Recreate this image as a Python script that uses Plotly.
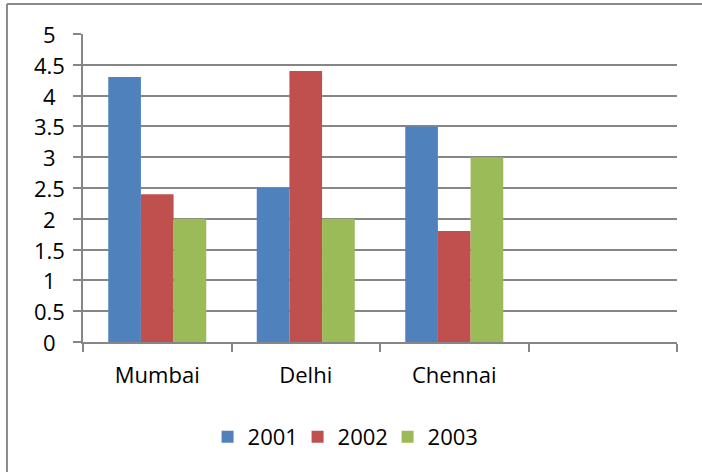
import plotly.graph_objects as go

categories = ["Mumbai", "Delhi", "Chennai", " "]
series_names = ["2001", "2002", "2003"]
values_2001 = [4.3, 2.5, 3.5, None]
values_2002 = [2.4, 4.4, 1.8, None]
values_2003 = [2.0, 2.0, 3.0, None]
colors = ["#4F81BD", "#C0504D", "#9BBB59"]
y_ticks = [0, 0.5, 1, 1.5, 2, 2.5, 3, 3.5, 4, 4.5, 5]
y_tick_labels = ["0", "0.5", "1", "1.5", "2", "2.5", "3", "3.5", "4", "4.5", "5"]

fig = go.Figure()
for name, vals, col in zip(series_names, [values_2001, values_2002, values_2003], colors):
    fig.add_trace(go.Bar(x=categories, y=vals, name=name, marker_color=col,
                         marker_line_width=0))

font_family = "Open Sans, sans-serif"
fsize = 22

# centered y tick labels (as in the reference)
annotations = [
    dict(x=-0.056, xref="paper", y=v, yref="y", text=t, showarrow=False,
         xanchor="center", yanchor="middle", font=dict(size=fsize, color="black"))
    for v, t in zip(y_ticks, y_tick_labels)
]

fig.update_layout(
    width=702, height=472,
    margin=dict(l=83, r=25, t=34, b=130),
    paper_bgcolor="white", plot_bgcolor="white",
    barmode="group", bargap=0.34, bargroupgap=0,
    font=dict(family=font_family, size=fsize, color="black"),
    showlegend=True,
    legend=dict(orientation="h", x=0.437, xanchor="center", y=-0.308, yanchor="middle",
                font=dict(size=fsize), itemwidth=30, traceorder="normal",
                entrywidth=45, entrywidthmode="pixels"),
    xaxis=dict(type="category", categoryorder="array", categoryarray=categories,
               tickson="boundaries", ticks="outside", ticklen=8, tickcolor="#868686",
               tickwidth=2,
               showline=True, linecolor="#868686", linewidth=2, showgrid=False,
               ticklabelstandoff=13, range=[-0.5, 3.5]),
    yaxis=dict(range=[0, 5], tickvals=y_ticks, ticktext=y_tick_labels,
               showticklabels=False,
               ticks="outside", ticklen=8, tickcolor="#868686", tickwidth=2,
               showline=True, linecolor="#868686", linewidth=2,
               showgrid=True, gridcolor="#868686", gridwidth=1.5,
               zeroline=False),
    annotations=annotations,
    shapes=[
        dict(type="line", xref="paper", yref="paper", x0=-0.128, x1=1.05, y0=1.097, y1=1.097,
             line=dict(color="#898989", width=2)),
        dict(type="line", xref="paper", yref="paper", x0=-0.128, x1=-0.128, y0=1.097, y1=-0.45,
             line=dict(color="#898989", width=2)),
    ],
)
fig.write_html("out.html", config={"displayModeBar": False},
               post_script="document.body.style.margin='0';")
